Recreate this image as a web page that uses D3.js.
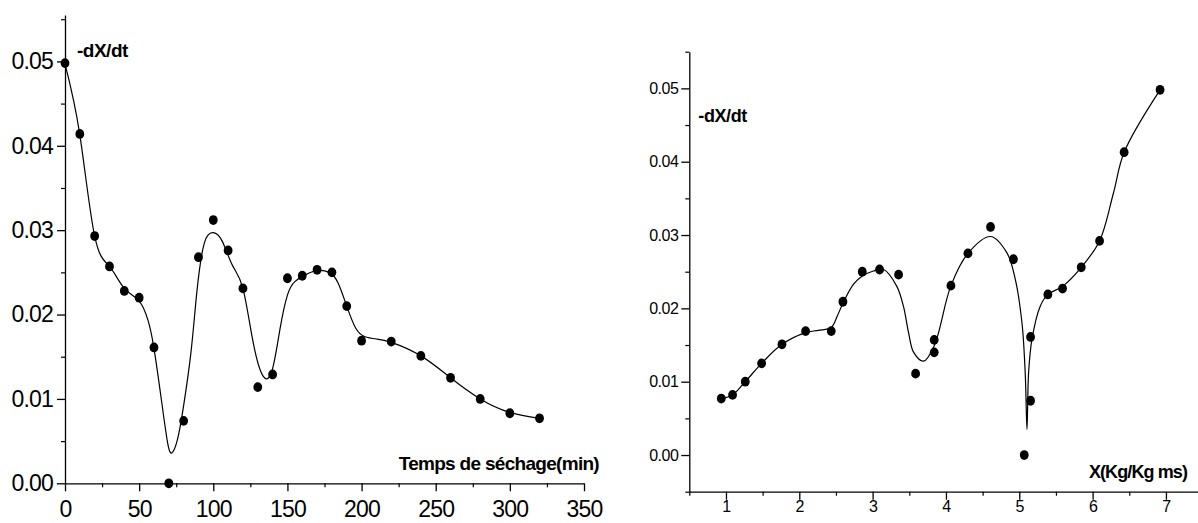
<!DOCTYPE html>
<html>
<head>
<meta charset="utf-8">
<script src="https://cdn.jsdelivr.net/npm/d3@7"></script>
<style>
  html, body { margin: 0; padding: 0; background: #fff; }
  svg { display: block; }
  text { font-family: "Liberation Sans", Arial, sans-serif; fill: #000; }
</style>
</head>
<body>
<svg id="chart" width="1198" height="523"></svg>
<script>
// ---------- Left chart: drying rate vs drying time ----------
const leftTime = [0,10,20,30,40,50,60,70,80,90,100,110,120,130,140,150,160,170,180,190,200,220,240,260,280,300,320];
const leftRate = [0.0498,0.0414,0.0293,0.0257,0.0228,0.0220,0.0161,0.0000,0.0074,0.0268,0.0312,0.0276,0.0231,0.0114,0.0129,0.0243,0.0246,0.0253,0.0250,0.0210,0.0169,0.0168,0.0151,0.0125,0.0100,0.0083,0.0077];
// smooth fitted curve
const leftFitTime = [0,10,20,30,40,50,56,60,65,69,72,76,80,85,89,94,100,106,113,120,127,134,140,145,150,155,162,170,178,184,190,196,202,210,220,240,260,280,300,320];
const leftFitRate = [0.0497,0.0413,0.0293,0.0257,0.0231,0.0216,0.0193,0.0160,0.0099,0.0050,0.0036,0.0053,0.0092,0.0156,0.0228,0.0285,0.0297,0.0287,0.0258,0.0231,0.0166,0.0126,0.0136,0.0183,0.0223,0.0239,0.0247,0.0252,0.0250,0.0238,0.0210,0.0184,0.0174,0.0171,0.0167,0.0151,0.0125,0.0100,0.0084,0.0077];
const leftXTicks = [0,50,100,150,200,250,300,350];
const leftXMinor = [25,75,125,175,225,275,325];
const leftYTicks = [0,0.01,0.02,0.03,0.04,0.05];
const leftYMinor = [0.005,0.015,0.025,0.035,0.045,0.055];

// ---------- Right chart: drying rate vs moisture content ----------
const rightMoisture = [6.92,6.43,6.095,5.845,5.59,5.39,5.154,5.068,5.154,4.92,4.608,4.30,4.068,3.84,3.84,3.586,3.354,3.095,2.859,2.595,2.436,2.086,1.764,1.486,1.263,1.09,0.936];
const rightRate = [0.0498,0.0413,0.0292,0.0256,0.0227,0.0219,0.0161,0.0000,0.0074,0.0267,0.0311,0.0275,0.0231,0.0157,0.0140,0.0111,0.0246,0.0253,0.0250,0.0209,0.0169,0.0169,0.0151,0.0125,0.0100,0.0082,0.0077];
const rightFitMoisture = [6.92,6.43,6.286,6.095,5.845,5.59,5.39,5.286,5.173,5.127,5.105,5.081,5.036,4.945,4.83,4.608,4.30,4.068,3.84,3.695,3.56,3.49,3.42,3.33,3.15,3.01,2.86,2.74,2.595,2.52,2.436,2.26,2.086,1.764,1.486,1.263,1.09,0.936];
const rightFitRate = [0.0498,0.0413,0.0358,0.0292,0.0256,0.0230,0.0219,0.0203,0.0158,0.0112,0.0035,0.0112,0.0181,0.0240,0.0276,0.0298,0.0275,0.0231,0.0149,0.0128,0.0140,0.0167,0.0203,0.0230,0.0253,0.0251,0.0244,0.0233,0.0207,0.0190,0.0174,0.0170,0.0167,0.0151,0.0125,0.0100,0.0082,0.0077];
const rightXTicks = [1,2,3,4,5,6,7];
const rightXMinor = [0.5,1.5,2.5,3.5,4.5,5.5,6.5,7.5];
const rightYTicks = [0,0.01,0.02,0.03,0.04,0.05];
const rightYMinor = [-0.005,0.005,0.015,0.025,0.035,0.045,0.055];

const svg = d3.select("#chart");
svg.append("rect").attr("width",1198).attr("height",523).attr("fill","#fff");

function styleAxis(g, sw) {
  g.selectAll("path, line").attr("stroke","#000").attr("stroke-width", sw);
}

function drawPanel(opt) {
  const x = d3.scaleLinear().domain(opt.xDomain).range(opt.xRange);
  const y = d3.scaleLinear().domain(opt.yDomain).range(opt.yRange);
  const g = svg.append("g");

  // minor ticks
  const gxm = g.append("g").attr("transform",`translate(0,${opt.yRange[0]})`)
    .call(d3.axisBottom(x).tickValues(opt.xMinor).tickSize(opt.minorLen).tickFormat("").tickSizeOuter(0));
  gxm.select(".domain").remove();
  styleAxis(gxm, 1.2);
  const gym = g.append("g").attr("transform",`translate(${opt.xRange[0]},0)`)
    .call(d3.axisLeft(y).tickValues(opt.yMinor).tickSize(opt.minorLen).tickFormat("").tickSizeOuter(0));
  gym.select(".domain").remove();
  styleAxis(gym, 1.2);

  // major axes
  const gx = g.append("g").attr("transform",`translate(0,${opt.yRange[0]})`)
    .call(d3.axisBottom(x).tickValues(opt.xTicks).tickSize(8).tickSizeOuter(0).tickFormat(d3.format("d")));
  styleAxis(gx, 1.3);
  gx.selectAll("text").attr("dy", null).attr("y", opt.xLabelY)
    .style("font-size", opt.tickFont + "px").style("letter-spacing", opt.tickLs + "px").attr("fill","#000");

  const gy = g.append("g").attr("transform",`translate(${opt.xRange[0]},0)`)
    .call(d3.axisLeft(y).tickValues(opt.yTicks).tickSize(8).tickPadding(opt.yPad).tickSizeOuter(0).tickFormat(d3.format(".2f")));
  styleAxis(gy, 1.3);
  gy.selectAll("text").style("font-size", opt.yTickFont + "px").style("letter-spacing", opt.tickLs + "px").attr("fill","#000");

  // fitted curve
  const pts = opt.fitX.map((v,i) => [v, opt.fitY[i]]);
  g.append("path").datum(pts)
    .attr("fill","none").attr("stroke","#000").attr("stroke-width",1.2)
    .attr("d", d3.line().x(d => x(d[0])).y(d => y(d[1])).curve(opt.curve));

  // data points
  const data = opt.dataX.map((v,i) => [v, opt.dataY[i]]);
  g.append("g").selectAll("ellipse").data(data).join("ellipse")
    .attr("cx", d => x(d[0])).attr("cy", d => y(d[1]))
    .attr("rx", 4.4).attr("ry", 4.9).attr("fill","#000");

  // labels
  g.append("text").attr("x", x(opt.xDomain[0]) + opt.yLabelDx).attr("y", opt.yLabelY)
    .style("font-size", opt.yLabelFont + "px").style("font-weight","bold").style("letter-spacing", opt.yLabelLs + "px")
    .text("-dX/dt");
  g.append("text").attr("x", opt.xTitleX).attr("y", opt.xTitleY).attr("text-anchor","end")
    .style("font-size", opt.xTitleFont + "px").style("font-weight","bold").style("letter-spacing", opt.xTitleLs + "px")
    .text(opt.xTitle);
}

drawPanel({
  xDomain:[0,350], xRange:[65,584], yDomain:[0,0.0555], yRange:[483.3,15],
  xTicks:leftXTicks, xMinor:leftXMinor, yTicks:leftYTicks, yMinor:leftYMinor,
  minorLen:4, xLabelY:34, tickFont:23, yTickFont:23, tickLs:-0.8, yPad:4,
  fitX:leftFitTime, fitY:leftFitRate, dataX:leftTime, dataY:leftRate, curve:d3.curveNatural,
  yLabelDx:12, yLabelY:57, yLabelFont:19, yLabelLs:-0.5,
  xTitle:"Temps de séchage(min)", xTitleX:599, xTitleY:470, xTitleFont:19, xTitleLs:-0.7
});

drawPanel({
  xDomain:[0.5,7.5], xRange:[689.3,1202.6], yDomain:[-0.005,0.055], yRange:[491.7,51.7],
  xTicks:rightXTicks, xMinor:rightXMinor, yTicks:rightYTicks, yMinor:rightYMinor,
  minorLen:4, xLabelY:20, tickFont:16, yTickFont:16, tickLs:-0.5, yPad:3,
  fitX:rightFitMoisture, fitY:rightFitRate, dataX:rightMoisture, dataY:rightRate, curve:d3.curveCatmullRom.alpha(0.5),
  yLabelDx:9, yLabelY:121.5, yLabelFont:18, yLabelLs:-0.4,
  xTitle:"X(Kg/Kg ms)", xTitleX:1187, xTitleY:477.5, xTitleFont:18, xTitleLs:-0.9
});
</script>
</body>
</html>
